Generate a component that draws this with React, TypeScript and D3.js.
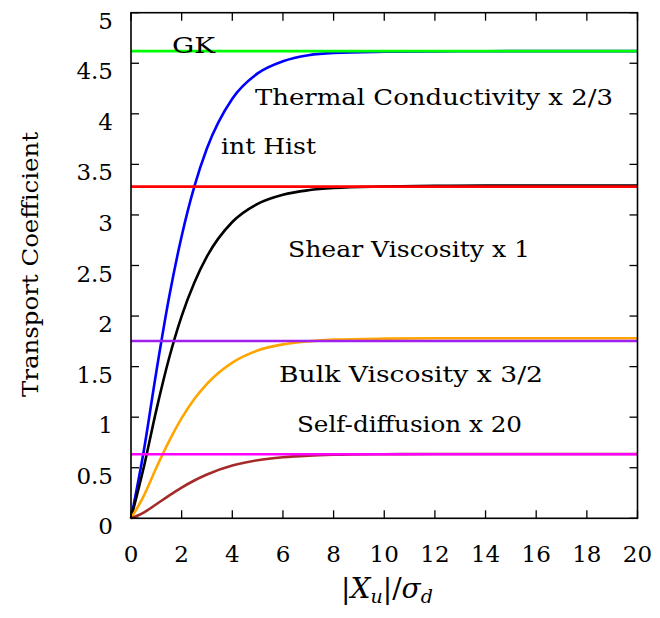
import React from "react";
import * as d3 from "d3";

const xs = [0, 0.5, 1, 1.5, 2, 2.5, 3, 4, 5, 6, 7, 8, 10, 12, 14, 16, 18, 20];
const thermal = [0, 0.66, 1.45, 2.18, 2.79, 3.28, 3.66, 4.15, 4.40, 4.52, 4.58, 4.603, 4.614, 4.618, 4.619, 4.62, 4.62, 4.62];
const shear = [0, 0.5, 1.07, 1.58, 2.0, 2.33, 2.59, 2.93, 3.11, 3.2, 3.244, 3.266, 3.281, 3.288, 3.29, 3.29, 3.29, 3.29];
const bulk = [0, 0.22, 0.5, 0.76, 0.99, 1.18, 1.33, 1.54, 1.66, 1.72, 1.75, 1.767, 1.777, 1.78, 1.78, 1.78, 1.78, 1.78];
const diffusion = [0, 0.057, 0.139, 0.224, 0.304, 0.374, 0.433, 0.521, 0.574, 0.604, 0.62, 0.628, 0.634, 0.636, 0.636, 0.636, 0.636, 0.636];

const gkNames = ["thermal", "shear", "bulk", "diffusion"];
const gkValues = [4.62, 3.28, 1.754, 0.633];
const gkColors = ["#00ff00", "#ff0000", "#a020f0", "#ff00ff"];

const curveColors = ["#0000ff", "#000000", "#ffa500", "#a52a2a"];

const xTicks = [0, 2, 4, 6, 8, 10, 12, 14, 16, 18, 20];
const yTicks = [0, 0.5, 1, 1.5, 2, 2.5, 3, 3.5, 4, 4.5, 5];
const yTickLabels = ["0", "0.5", "1", "1.5", "2", "2.5", "3", "3.5", "4", "4.5", "5"];

const labels = [
  { text: "GK", x: 172, y: 53, w: 43 },
  { text: "Thermal Conductivity x 2/3", x: 255, y: 105, w: 358 },
  { text: "int Hist", x: 221, y: 154, w: 95 },
  { text: "Shear Viscosity x 1", x: 288, y: 257, w: 242 },
  { text: "Bulk Viscosity x 3/2", x: 279, y: 382, w: 264 },
  { text: "Self-diffusion x 20", x: 297, y: 432, w: 225 },
];

const FONT = "'DejaVu Serif', serif";

export default function App() {
  const left = 131, right = 637.5, top = 12.7, bottom = 518.3;
  const x = d3.scaleLinear().domain([0, 20]).range([left, right]);
  const y = d3.scaleLinear().domain([0, 5]).range([bottom, top]);
  const series = [thermal, shear, bulk, diffusion];
  const line = d3
    .line<[number, number]>()
    .x((d) => x(d[0]))
    .y((d) => y(d[1]))
    .curve(d3.curveMonotoneX);
  const tl = 8;

  return (
    <svg width={660} height={618} style={{ position: "absolute", left: 0, top: 0, background: "#fff" }}>
      <rect x={0} y={0} width={660} height={618} fill="#fff" />
      {series.map((s, i) => (
        <path
          key={"c" + i}
          d={line(xs.map((v, j) => [v, s[j]] as [number, number])) || ""}
          fill="none"
          stroke={curveColors[i]}
          strokeWidth={2.6}
        />
      ))}
      {gkValues.map((v, i) => (
        <line
          key={gkNames[i]}
          x1={x(0)}
          x2={x(20)}
          y1={y(v)}
          y2={y(v)}
          stroke={gkColors[i]}
          strokeWidth={2.6}
        />
      ))}
      <rect x={left} y={top} width={right - left} height={bottom - top} fill="none" stroke="#000" strokeWidth={1.6} />
      {xTicks.map((t) => (
        <g key={"xt" + t}>
          <line x1={x(t)} x2={x(t)} y1={bottom} y2={bottom - tl} stroke="#000" strokeWidth={1.3} />
          <line x1={x(t)} x2={x(t)} y1={top} y2={top + tl} stroke="#000" strokeWidth={1.3} />
          <text x={x(t)} y={562} textAnchor="middle" style={{ fontFamily: FONT }} fontSize={23}>
            {t}
          </text>
        </g>
      ))}
      {yTicks.map((t, i) => (
        <g key={"yt" + t}>
          <line x1={left} x2={left + tl} y1={y(t)} y2={y(t)} stroke="#000" strokeWidth={1.3} />
          <line x1={right} x2={right - tl} y1={y(t)} y2={y(t)} stroke="#000" strokeWidth={1.3} />
          <text x={113} y={y(t) + 16} textAnchor="end" style={{ fontFamily: FONT }} fontSize={23}>
            {yTickLabels[i]}
          </text>
        </g>
      ))}
      {labels.map((l) => (
        <text
          key={l.text}
          x={l.x}
          y={l.y}
          style={{ fontFamily: FONT }}
          fontSize={23}
          textLength={l.w}
          lengthAdjust="spacingAndGlyphs"
        >
          {l.text}
        </text>
      ))}
      <text
        transform="translate(38,264.5) rotate(-90)"
        textAnchor="middle"
        style={{ fontFamily: FONT }}
        fontSize={23}
        textLength={265}
        lengthAdjust="spacingAndGlyphs"
      >
        Transport Coefficient
      </text>
      <text x={387} y={598} textAnchor="middle" style={{ fontFamily: FONT }} fontSize={28}>
        <tspan>|</tspan>
        <tspan fontStyle="italic">X</tspan>
        <tspan fontStyle="italic" fontSize={19} dy={5}>u</tspan>
        <tspan dy={-5}>|/</tspan>
        <tspan fontStyle="italic">σ</tspan>
        <tspan fontStyle="italic" fontSize={19} dy={5}>d</tspan>
      </text>
    </svg>
  );
}
